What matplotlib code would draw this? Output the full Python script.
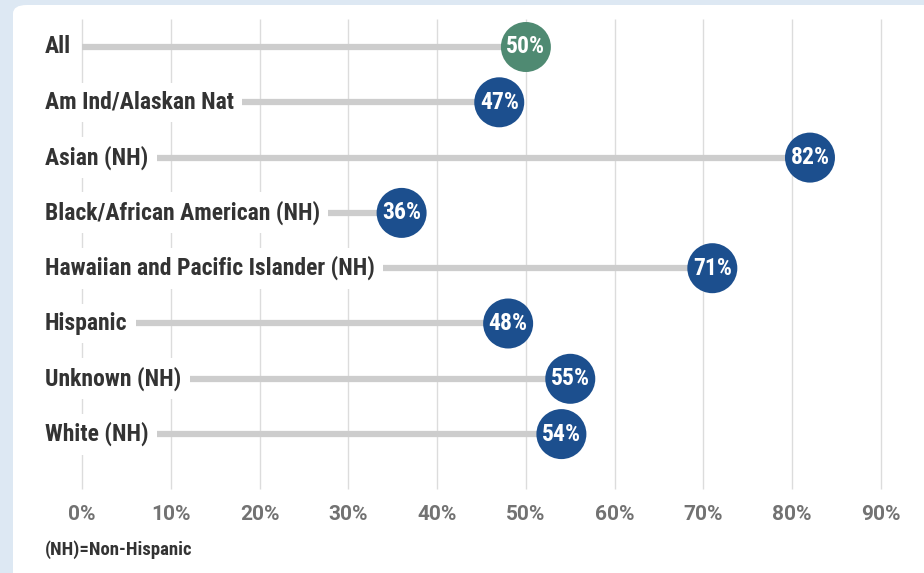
#!/usr/bin/env python3
import matplotlib
matplotlib.use("Agg")
import matplotlib.pyplot as plt
from matplotlib import font_manager
from matplotlib.patches import FancyBboxPatch
import numpy as np

# datos
grupos = ["All", "Am Ind/Alaskan Nat", "Asian (NH)", "Black/African American (NH)",
          "Hawaiian and Pacific Islander (NH)", "Hispanic", "Unknown (NH)", "White (NH)"]
valores = [50, 47, 82, 36, 71, 48, 55, 54]
ticks = [0, 10, 20, 30, 40, 50, 60, 70, 80, 90]
nota = "(NH)=Non-Hispanic"

nombres = {f.name for f in font_manager.fontManager.ttflist}
condensada = [f for f in ['Roboto Condensed', 'Liberation Sans Narrow'] if f in nombres] + ['DejaVu Sans']
normal = [f for f in ['Roboto'] if f in nombres] + ['DejaVu Sans']
plt.rcParams['font.family'] = condensada

AZUL = "#1c4f8e"
VERDE = "#4f8a72"
GRIS_LINEA = "#cdcdcd"
GRIS_GRID = "#dcdcdc"


def grafico():
    fig = plt.figure(figsize=(9.24, 5.73), dpi=100)
    fig.patch.set_facecolor("#dde8f3")
    # panel blanco redondeado
    panel = FancyBboxPatch((13 / 924, -0.02), 1.0, 1.0 - 5 / 573 + 0.02,
                           boxstyle="round,pad=0,rounding_size=0.015",
                           transform=fig.transFigure, facecolor="white",
                           edgecolor="none", zorder=0)
    fig.patches.append(panel)

    ax = fig.add_axes([0, 0, 1, 1])
    ax.set_zorder(2)
    ax.set_facecolor("none")
    # escala: 0% en x=82px, 90% en x=881px ; filas cada ~55.3px desde y=47px
    px = (881 - 82) / 90
    ax.set_xlim(-82 / px, (924 - 82) / px)
    py = 55.3
    ax.set_ylim((573 - 47) / py, -47 / py)
    ax.axis("off")

    y = np.arange(len(grupos))

    # lineas de cuadricula
    ax.vlines(ticks, -0.5, 8.0, color=GRIS_GRID, lw=1.0, zorder=1)
    for t in ticks:
        ax.text(t, 8.45, f"{t}%", ha="center", va="center", fontsize=15,
                fontweight="bold", color="#727272", family=normal)

    # barras grises
    ax.hlines(y, 0, valores, color=GRIS_LINEA, lw=4.5, zorder=2)

    # etiquetas con fondo blanco
    for i, g in enumerate(grupos):
        ax.text(-37 / px, i, g, ha="left", va="center", fontsize=17,
                fontweight="bold", color="#333333", zorder=3,
                bbox=dict(facecolor="white", edgecolor="none", pad=6))

    # circulos
    colores = [VERDE] + [AZUL] * (len(grupos) - 1)
    ax.scatter(valores, y, s=36 ** 2, c=colores, zorder=4, edgecolors="none")
    for v, yi in zip(valores, y):
        ax.text(v, yi, f"{v}%", ha="center", va="center", fontsize=17,
                fontweight="bold", color="white", zorder=5)

    ax.text(-37 / px, 9.08, nota, ha="left", va="center", fontsize=13.5,
            fontweight="bold", color="#333333")

    fig.savefig("out.png", dpi=100, facecolor=fig.get_facecolor())


if __name__ == "__main__":
    grafico()
